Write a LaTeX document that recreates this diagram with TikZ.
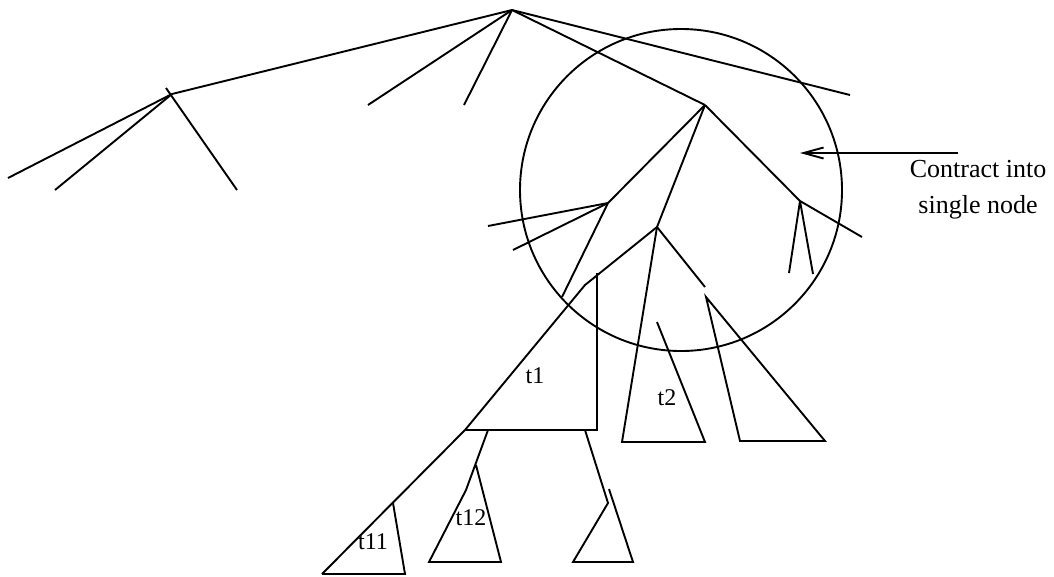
\documentclass[tikz,border=0pt]{standalone}
\usepackage{fontspec}
\setmainfont{Liberation Serif}
\usetikzlibrary{arrows.meta,positioning}

\begin{document}
\begin{tikzpicture}[x=1pt,y=-1pt,
        edge/.style={line width=1.9pt, line join=miter},
        blob/.style={circle, draw=black, line width=1.9pt, minimum size=322pt, inner sep=0pt},
        lbl/.style={font=\fontsize{24}{28}\selectfont, inner sep=0pt},
        note/.style={font=\fontsize{26}{36}\selectfont, align=center, inner sep=0pt},
        pointer/.style={-{Straight Barb[length=20pt,width=11pt]}, line width=1.9pt}
    ]
    \useasboundingbox (0,0) rectangle (1054,576);

    % Branch points
    \coordinate (root) at (512,10);
    \coordinate (lft) at (172,94);
    \coordinate (mid) at (705,105);
    \coordinate (bl) at (608,203);
    \coordinate (bc) at (657,227);
    \coordinate (br) at (800,201);

    % Region to be contracted
    \node[blob] (region) at (681,190) {};

    % Top of the tree
    \draw[edge] (root) -- (lft);
    \draw[edge] (root) -- (368,105);
    \draw[edge] (root) -- (464,105);
    \draw[edge] (root) -- (850,95);
    \draw[edge] (root) -- (mid);

    \draw[edge] (lft) -- (8,178);
    \draw[edge] (lft) -- (55,190);
    \draw[edge] (166,88) -- (237,190);

    % Inside the circle
    \draw[edge] (mid) -- (bl);
    \draw[edge] (mid) -- (bc);
    \draw[edge] (mid) -- (br);

    \draw[edge] (bl) -- (488,226);
    \draw[edge] (bl) -- (513,250);
    \draw[edge] (bl) -- (562,297);

    \draw[edge] (bc) -- (705,287);

    \draw[edge] (br) -- (862,237);
    \draw[edge] (br) -- (789,273);
    \draw[edge] (br) -- (813,274);

    % Subtree t1 and below
    \draw[edge] (bc) -- (585,285) -- (465,430) -- (322,574);
    \draw[edge] (597,273) -- (597,430) -- (465,430);
    \draw[edge] (393,503) -- (405,574) -- (322,574);
    \draw[edge] (488,430) -- (466,490) -- (429,562) -- (501,562) -- (476,465);
    \draw[edge] (585,430) -- (608,503) -- (573,562) -- (633,562) -- (609,489);

    % Subtree t2 and its neighbour
    \draw[edge] (bc) -- (622,442) -- (705,442) -- (657,322);
    \draw[edge] (706,297) -- (740,441) -- (825,441) -- cycle;

    \node[lbl] (t1) at (535,376) {t1};
    \node[lbl] (t2) at (667,398) {t2};
    \node[lbl] (t11) at (373,542) {t11};
    \node[lbl] (t12) at (471,518) {t12};

    % Annotation
    \node[note] (txt) at (978,190) {Contract into\\single node};
    \coordinate (tail) at (958,153);
    \coordinate (head) at (800,153);
    \draw[pointer] (tail) -- (head);

\end{tikzpicture}
\end{document}
